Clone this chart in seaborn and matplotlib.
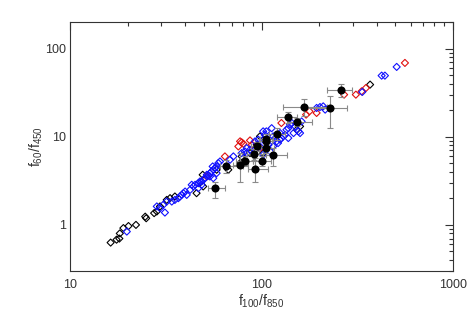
import numpy as np
import pandas as pd
import matplotlib
matplotlib.use("Agg")
import matplotlib.pyplot as plt
import seaborn as sns
from matplotlib.ticker import LogLocator, FixedFormatter, FixedLocator, NullFormatter

# open black diamonds
black_x = [16.3, 17.5, 18.1, 18.2, 19.0, 20.2, 22.1, 25.0, 24.7, 27.5, 28.4, 29.5,
           32.0, 33.3, 35.3, 45.8, 49.6, 49.3, 58.3, 67.1, 78.8, 87.1, 94.4, 98.2,
           102, 153, 159, 369, 77.3, 65.8]
black_y = [0.63, 0.68, 0.70, 0.80, 0.92, 0.97, 1.0, 1.19, 1.24, 1.36, 1.42, 1.62,
           1.92, 2.01, 2.10, 2.29, 2.73, 3.70, 4.22, 4.22, 5.98, 6.52, 8.11, 10.1,
           6.52, 12.0, 13.1, 39.0, 5.02, 4.60]

# open red diamonds
red_x = [51.8, 64.4, 75.7, 78.8, 80.4, 87.1, 88.9, 98.2, 127, 171, 178, 194,
         270, 311, 333, 351, 561, 77.3]
red_y = [3.54, 5.98, 7.76, 8.63, 8.32, 9.08, 8.11, 7.43, 14.3, 17.8, 19.4, 18.6,
         30.0, 30.0, 32.7, 35.7, 68.7, 8.86]

# open blue diamonds
blue_x = [19.8, 28.4, 29.5, 31.3, 30.7, 32.0, 34.0, 35.3, 37.5, 39.1, 39.9, 38.3,
          36.8, 40.7, 44.1, 45.0, 46.8, 47.7, 48.7, 49.7, 50.7, 52.7, 53.8, 54.9,
          56.0, 57.1, 58.3, 59.5, 60.7, 55.6, 51.8, 53.8, 56.0, 58.3, 46.8, 48.7,
          42.4, 43.2, 68.5, 71.3, 78.8, 82.0, 83.7, 87.1, 92.5, 96.2, 102, 104,
          106, 113, 115, 118, 120, 122, 125, 127, 130, 133, 135, 138, 141, 144,
          147, 150, 153, 156, 159, 162, 194, 202, 210, 215, 336, 424, 441, 508,
          65.8, 92.5, 98.2, 102, 111, 83.7, 109, 115, 125, 138, 102]
blue_y = [0.84, 1.62, 1.55, 1.38, 1.69, 1.84, 1.84, 1.92, 2.10, 2.29, 2.39, 2.19,
          2.01, 2.19, 2.73, 2.85, 2.97, 3.11, 3.11, 3.25, 3.39, 3.61, 3.86, 4.04,
          4.22, 4.40, 4.60, 5.02, 5.24, 4.60, 3.70, 3.54, 3.39, 3.86, 2.61, 2.85,
          2.50, 2.85, 5.48, 5.98, 6.52, 6.81, 7.43, 7.12, 8.86, 9.25, 11.5, 10.5,
          11.5, 12.5, 10.1, 9.66, 8.86, 8.47, 9.25, 9.66, 10.1, 10.5, 12.0, 12.5,
          13.7, 14.3, 11.0, 13.1, 14.3, 11.5, 11.0, 14.9, 21.2, 21.7, 22.1, 20.3,
          32.2, 49.3, 49.3, 61.9, 4.60, 7.12, 7.76, 6.24, 6.81, 6.52, 8.11, 7.76,
          11.0, 9.66, 9.25]

# filled black circles with error ranges
src_x = [57.0, 65.3, 77.4, 82.0, 91.6, 92.9, 101, 106, 106, 95.0, 115, 120,
         137, 154, 167, 229, 259, 105]
src_y = [2.61, 4.60, 4.77, 5.30, 6.36, 4.33, 5.30, 7.5, 9.4, 7.8, 6.2, 10.8,
         16.6, 14.8, 21.7, 21.2, 34.2, 8.9]
src_x_lo = [52.8, 60.7, 71.0, 74.0, 83.5, 85.2, 90.6, 97.0, 98.0, 88.0, 106, 109,
            121, 136, 129, 165, 221, 97.0]
src_x_hi = [64.5, 80.3, 85.0, 90.0, 102, 108, 112, 116, 115, 103, 136, 133,
            154, 183, 219, 281, 296, 114]
src_y_lo = [2.0, 3.86, 3.1, 4.6, 5.5, 3.1, 4.6, 6.6, 8.3, 6.9, 4.6, 9.2,
            14.3, 13.3, 17.0, 12.7, 28.2, 7.9]
src_y_hi = [3.1, 5.5, 6.6, 6.0, 7.3, 5.7, 6.1, 8.5, 10.6, 8.8, 7.4, 12.5,
            18.9, 16.4, 26.8, 28.6, 39.7, 10.0]

x_ticks = [10, 100, 1000]
x_tick_labels = ["10", "100", "1000"]
y_ticks = [1, 10, 100]
y_tick_labels = ["1", "10", "100"]

sns.set_style("white")
plt.rcParams["font.family"] = ["Liberation Sans", "DejaVu Sans"]
plt.rcParams["mathtext.fontset"] = "custom"
plt.rcParams["mathtext.rm"] = "Liberation Sans"

fig = plt.figure(figsize=(4.74, 3.16), dpi=100)
ax = fig.add_axes([70 / 474, 45 / 316, 383 / 474, 249 / 316])

black = pd.DataFrame({"x": black_x, "y": black_y})
red = pd.DataFrame({"x": red_x, "y": red_y})
blue = pd.DataFrame({"x": blue_x, "y": blue_y})
src = pd.DataFrame({"x": src_x, "y": src_y})

diamond_kw = dict(marker="D", s=13, facecolor="none", linewidth=0.8, ax=ax)
sns.scatterplot(data=black, x="x", y="y", edgecolor="black", zorder=2, **diamond_kw)
sns.scatterplot(data=red, x="x", y="y", edgecolor="#e01010", zorder=3, **diamond_kw)
sns.scatterplot(data=blue, x="x", y="y", edgecolor="#1010ff", zorder=3, **diamond_kw)

xerr = [src["x"] - np.array(src_x_lo), np.array(src_x_hi) - src["x"]]
yerr = [src["y"] - np.array(src_y_lo), np.array(src_y_hi) - src["y"]]
ax.errorbar(src["x"], src["y"], xerr=xerr, yerr=yerr, fmt="none",
            ecolor="#8a8a8a", elinewidth=0.8, capsize=2.2, capthick=0.8, zorder=4)
sns.scatterplot(data=src, x="x", y="y", marker="o", s=34, color="black",
                edgecolor="black", linewidth=0, zorder=5, ax=ax)

ax.set_xscale("log")
ax.set_yscale("log")
ax.set_xlim(10, 1000)
ax.set_ylim(0.3, 200)

ax.xaxis.set_major_locator(FixedLocator(x_ticks))
ax.xaxis.set_major_formatter(FixedFormatter(x_tick_labels))
ax.yaxis.set_major_locator(FixedLocator(y_ticks))
ax.yaxis.set_major_formatter(FixedFormatter(y_tick_labels))
for axis in (ax.xaxis, ax.yaxis):
    axis.set_minor_locator(LogLocator(base=10, subs=np.arange(2, 10)))
    axis.set_minor_formatter(NullFormatter())

ax.tick_params(which="both", direction="in", top=True, right=True,
               color="#333333", width=0.8, labelcolor="#333333", labelsize=9)
ax.tick_params(which="major", length=5.5)
ax.tick_params(which="minor", length=3)
ax.tick_params(axis="x", pad=6)
ax.tick_params(axis="y", pad=3)
for sp in ax.spines.values():
    sp.set_color("#333333")
    sp.set_linewidth(0.8)

ax.set_xlabel(r"$\mathregular{f_{100}/f_{850}}$", fontsize=10, color="#333333", labelpad=1)
ax.set_ylabel(r"$\mathregular{f_{60}/f_{450}}$", fontsize=10, color="#333333", labelpad=0)

fig.savefig("out.png", dpi=100)
